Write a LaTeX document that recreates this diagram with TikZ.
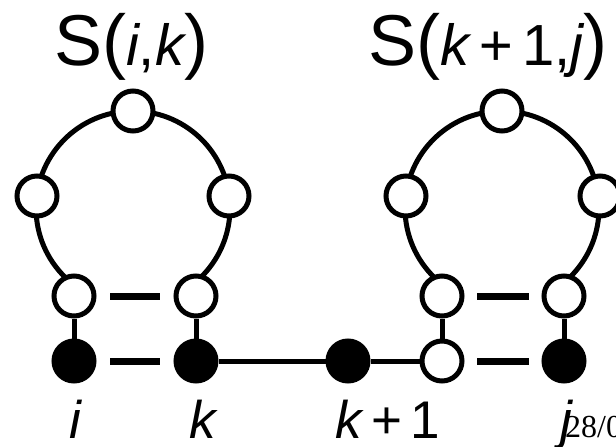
\documentclass[tikz,border=0pt]{standalone}
\usepackage{fontspec}
\setmainfont{Liberation Sans}
\newfontfamily\serifnum{Liberation Serif}
\usetikzlibrary{calc}
\tikzset{
  base/.style={circle, minimum size=40pt, inner sep=0pt, line width=5pt, draw=black},
  openbase/.style={base, fill=white},
  filledbase/.style={base, fill=black},
  link/.style={line width=5pt, draw=black},
  pairbar/.style={line width=7pt, draw=black},
  lbl/.style={inner sep=0pt, anchor=base, font=\fontsize{53}{53}\selectfont\itshape},
  toplbl/.style={inner sep=0pt, anchor=base}
}
\newcommand{\bigS}[1]{{\fontsize{72}{72}\selectfont #1}}
\newcommand{\smallarg}[1]{{\fontsize{58}{58}\selectfont #1}}
\begin{document}
\begin{tikzpicture}[x=1pt,y=1pt]
\useasboundingbox (0,0) rectangle (616,-447);
\clip (0,0) rectangle (616,-447);
% loops
\coordinate (C1) at (133,-208);
\coordinate (C2) at (502,-208);
\draw[link] ($(C1)+(226:97)$) arc[start angle=226, end angle=-46, radius=97];
\draw[link] ($(C2)+(226:97)$) arc[start angle=226, end angle=-46, radius=97];
% left hairpin nodes
\node[openbase] (T1) at (133,-111) {};
\node[openbase] (L1) at (37,-196) {};
\node[openbase] (R1) at (229,-196) {};
\node[openbase] (Lo) at (74,-296) {};
\node[openbase] (Ro) at (196,-296) {};
\node[filledbase] (ni) at (74,-361) {};
\node[filledbase] (nk) at (196,-361) {};
% right hairpin nodes
\node[openbase] (T2) at (502,-111) {};
\node[openbase] (L2) at (406,-196) {};
\node[openbase] (R2) at (600,-196) {};
\node[openbase] (Lo2) at (442,-296) {};
\node[openbase] (Ro2) at (564,-296) {};
\node[openbase] (Bo2) at (442,-361) {};
\node[filledbase] (nj) at (564,-361) {};
\node[filledbase] (nk1) at (348,-361) {};
% connectors
\draw[link] (Lo) -- (ni);
\draw[link] (Ro) -- (nk);
\draw[link] (nk) -- (nk1);
\draw[link] (nk1) -- (Bo2);
\draw[link] (Lo2) -- (Bo2);
\draw[link] (Ro2) -- (nj);
% pair bars
\draw[pairbar] ($(Lo)!0.5!(Ro)$) +(-25,0) -- +(25,0);
\draw[pairbar] ($(ni)!0.5!(nk)$) +(-25,0) -- +(25,0);
\draw[pairbar] ($(Lo2)!0.5!(Ro2)$) +(-26,0) -- +(26,0);
\draw[pairbar] ($(Bo2)!0.5!(nj)$) +(-26,0) -- +(26,0);
% top labels
\node[toplbl] (S1) at (131,-65) {\bigS{S(}\smallarg{\itshape i}\smallarg{,}\smallarg{\itshape k}\bigS{)}};
\node[toplbl] (S2) at (488,-65) {\bigS{S(}\smallarg{\itshape k\,+\,}\smallarg{1,}\smallarg{\itshape j}\bigS{)}};
% bottom labels
\node[lbl] (li) at (75,-438) {i};
\node[lbl] (lk) at (203,-438) {k};
\node[lbl] (lk1) at (388,-438) {k\,\upshape+\,1};
\node[lbl] (lj) at (566,-438) {j};
\node[inner sep=0pt, anchor=base west, font=\serifnum\fontsize{32}{32}\selectfont] (date) at (565,-437) {28/0};
\end{tikzpicture}
\end{document}
